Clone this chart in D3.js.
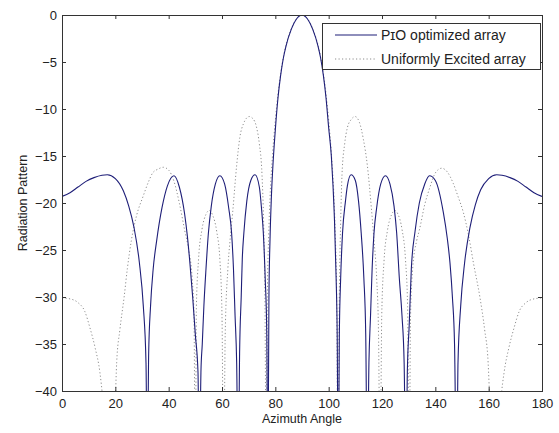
<!DOCTYPE html>
<html>
<head>
<meta charset="utf-8">
<script src="https://cdn.jsdelivr.net/npm/d3@7"></script>
<style>
  body { margin: 0; background: #fff; }
  text { font-family: "Liberation Sans", Arial, sans-serif; fill: #222; }
  .axis path, .axis line { stroke: #333; }
</style>
</head>
<body>
<div id="chart"></div>
<script>
// PSO optimized array (solid) - angle in degrees, pattern in dB
var pioAngle = [0, 3, 6, 9, 12, 15, 17, 20, 23, 25, 27, 29, 30.5, 31.5, 32,
  32.5, 33.2, 34.2, 35.5, 37.5, 39.5, 42, 44, 46, 47, 48, 49, 50, 51, 51.5,
  52.1, 52.6, 53.2, 54, 54.9, 56, 57.5, 59.2, 61, 62.5, 63.6, 64.3, 64.9, 65.5, 66.1,
  66.6, 67.2, 67.6, 68.2, 69.3, 70.8, 72.4, 74, 74.8, 75.5, 76.2, 76.8, 77.2,
  77.6, 78, 78.5, 79, 80, 81, 82, 83, 84, 86, 88, 90,
  92, 94, 96, 97, 98, 99, 100, 101, 101.6, 102.2, 102.8, 103.2, 103.6,
  104, 104.5, 105.2, 106.3, 107, 108.4, 110, 111.2, 112.2, 113.2, 113.9, 114.5,
  115.1, 115.7, 116.3, 117, 118, 119.5, 121.3, 123, 124.5, 125.5, 126.5, 127.5, 128.3, 129,
  129.5, 130.2, 131, 132.4, 134, 136, 137.8, 140, 143, 144.5, 145.5, 146.4, 147.2, 148,
  148.5, 149.5, 151, 153, 155, 157, 160, 163, 165, 168, 171, 174, 177, 180];
var pioDb = [-19.3, -18.9, -18.3, -17.7, -17.3, -17.05, -17.0, -17.4, -18.7, -20.3, -22.6, -26.3, -31, -37, -50,
  -36, -31, -27, -24, -20.5, -18.2, -17.1, -18.3, -21.2, -23.5, -26.5, -30, -34, -38, -50,
  -38, -35, -31, -27, -23.2, -20.3, -18, -17.1, -18, -20.5, -23.2, -27, -32, -37, -50,
  -36, -30, -26, -23.2, -19.8, -17.6, -17.0, -18.3, -20.5, -23.2, -28, -34, -50,
  -30, -24, -19.5, -16.5, -12.2, -8.8, -6.4, -4.6, -3.3, -1.5, -0.4, 0,
  -0.4, -1.5, -3.3, -4.6, -6.4, -8.8, -12, -15, -18, -22, -28, -34, -50,
  -34, -28, -23.2, -19.8, -18.2, -17.0, -17.6, -19.8, -23.2, -28, -34, -50,
  -37, -32, -27, -23.2, -20.5, -18, -17.1, -18, -20.3, -23.2, -28, -32, -37, -50,
  -38, -33, -27, -23, -20, -18, -17.1, -17.6, -21, -23.8, -26.4, -30, -35, -50,
  -37, -31, -26.3, -22.6, -20.2, -18.6, -17.4, -17.0, -17.05, -17.3, -17.7, -18.3, -18.9, -19.3];

// Uniformly excited array (dotted)
var uniAngle = [0, 3, 6, 8.5, 10.5, 12.5, 14.2, 15.3, 17.7, 20, 20.5, 21.7, 23.3, 24.5, 26, 28, 30.4, 32.5, 34, 36, 38, 40, 42, 44, 46, 47.5, 48.8, 49.5, 50,
  50.4, 51.2, 52.5, 54, 55.2, 56.5, 58, 59.2, 60, 60.6,
  61.2, 62.2, 63, 64, 65.5, 66.7, 68, 70.2, 71.5, 73, 74, 75, 75.6, 76.1, 76.6,
  77, 77.5, 78, 79, 80, 81, 82, 83, 84, 86, 88, 90,
  92, 94, 96, 97, 98, 99, 100, 101, 102, 102.5, 103, 103.5,
  104, 104.5, 105, 106, 107, 108.5, 109.9, 111.5, 113, 114.5, 116, 117, 118, 118.7, 119.3,
  119.9, 120.8, 122, 123.5, 124.8, 126, 127.5, 128.8, 129.6, 130.2,
  130.7, 131.5, 133, 134, 136, 138, 140, 142.4, 144.5, 146.7, 148.5, 150.5, 152.5, 154.3, 156.7, 158.5, 159.8, 160.4,
  162.4, 164.6, 165.8, 167.5, 169.5, 171.5, 174, 177, 180];
var uniDb = [-30.1, -30.2, -30.6, -31.5, -33.3, -35.5, -38, -41, -55, -41, -37, -33.5, -30, -27, -24, -21.3, -19.3, -17.7, -16.8, -16.4, -16.2, -16.5, -17.7, -20, -22.9, -25, -28, -32, -50,
  -31, -26, -22.8, -21.2, -20.8, -21.3, -23, -26, -32, -50,
  -34, -27, -24, -21, -16, -13, -11.6, -10.8, -11, -12, -13.7, -17, -22, -30, -50,
  -30, -23.5, -19.5, -14.7, -11.2, -8.4, -6.2, -4.5, -3.2, -1.45, -0.37, 0,
  -0.37, -1.45, -3.2, -4.5, -6.2, -8.4, -11.2, -14.7, -19.5, -23.5, -30, -50,
  -30, -22, -17, -13.7, -12, -11.1, -10.8, -11.4, -13.2, -16, -20.5, -24, -28, -34, -50,
  -32, -26, -23, -21.3, -20.8, -21.2, -22.8, -26, -31, -50,
  -32, -27, -24, -22.9, -20.2, -18.3, -16.8, -16.3, -16.7, -17.9, -19.3, -21, -23.5, -26.4, -30, -33.5, -37, -41,
  -55, -41, -38, -35.5, -33.3, -31.5, -30.6, -30.2, -30.1];

var xTicks = [0, 20, 40, 60, 80, 100, 120, 140, 160, 180];
var yTicks = [0, -5, -10, -15, -20, -25, -30, -35, -40];
var legendLabels = ["P\u026AO optimized array", "Uniformly Excited array"];

var W = 559, H = 433;
var box = {left: 62, right: 542, top: 15, bottom: 391};

var x = d3.scaleLinear().domain([0, 180]).range([box.left, box.right]);
var y = d3.scaleLinear().domain([-40, 0]).range([box.bottom, box.top]);

var svg = d3.select("#chart").append("svg")
    .attr("width", W)
    .attr("height", H);

svg.append("rect").attr("width", W).attr("height", H).attr("fill", "#fff");

svg.append("clipPath").attr("id", "plot-clip")
  .append("rect")
    .attr("x", box.left).attr("y", box.top)
    .attr("width", box.right - box.left).attr("height", box.bottom - box.top);

var line = d3.line()
    .curve(d3.curveMonotoneX)
    .x(function(d) { return x(d[0]); })
    .y(function(d) { return y(d[1]); });

var pio = pioAngle.map(function(a, i) { return [a, pioDb[i]]; });
var uni = uniAngle.map(function(a, i) { return [a, uniDb[i]]; });

var plot = svg.append("g").attr("clip-path", "url(#plot-clip)");

plot.append("path")
    .datum(uni)
    .attr("fill", "none")
    .attr("stroke", "#8e8e8e")
    .attr("stroke-width", 1)
    .attr("stroke-dasharray", "1.2,2.3")
    .attr("d", line);

plot.append("path")
    .datum(pio)
    .attr("fill", "none")
    .attr("stroke", "#1e1e78")
    .attr("stroke-width", 1.1)
    .attr("d", line);

// axes, matlab style: ticks pointing in on all four sides
svg.append("g")
    .attr("class", "axis")
    .attr("transform", "translate(0," + box.bottom + ")")
    .call(d3.axisBottom(x).tickValues(xTicks).tickSizeInner(-4).tickSizeOuter(0).tickPadding(8))
    .selectAll("text").style("font-size", "13px");

svg.append("g")
    .attr("class", "axis")
    .attr("transform", "translate(" + box.left + ",0)")
    .call(d3.axisLeft(y).tickValues(yTicks).tickSizeInner(-4).tickSizeOuter(0).tickPadding(5))
    .selectAll("text").style("font-size", "13px");

svg.append("g")
    .attr("class", "axis")
    .attr("transform", "translate(0," + box.top + ")")
    .call(d3.axisTop(x).tickValues(xTicks).tickSizeInner(-4).tickSizeOuter(0).tickFormat(""));

svg.append("g")
    .attr("class", "axis")
    .attr("transform", "translate(" + box.right + ",0)")
    .call(d3.axisRight(y).tickValues(yTicks).tickSizeInner(-4).tickSizeOuter(0).tickFormat(""));

svg.append("rect")
    .attr("x", box.left + 0.5).attr("y", box.top + 0.5)
    .attr("width", box.right - box.left).attr("height", box.bottom - box.top)
    .attr("fill", "none")
    .attr("stroke", "#333");

// axis titles
svg.append("text")
    .attr("x", (box.left + box.right) / 2)
    .attr("y", 423)
    .attr("text-anchor", "middle")
    .style("font-size", "12.5px")
    .text("Azimuth Angle");

svg.append("text")
    .attr("transform", "translate(27," + ((box.top + box.bottom) / 2) + ") rotate(-90)")
    .attr("text-anchor", "middle")
    .style("font-size", "12.5px")
    .text("Radiation Pattern");

// legend
var lg = svg.append("g").attr("transform", "translate(322,23)");
lg.append("rect")
    .attr("x", 0.5).attr("y", 0.5)
    .attr("width", 218).attr("height", 46)
    .attr("fill", "#fff")
    .attr("stroke", "#333");

var styles = [
  {stroke: "#1e1e78", dash: null},
  {stroke: "#8e8e8e", dash: "1.2,2.3"}
];
legendLabels.forEach(function(lbl, i) {
  var yy = 12 + i * 24;
  lg.append("line")
      .attr("x1", 13).attr("x2", 55)
      .attr("y1", yy).attr("y2", yy)
      .attr("stroke", styles[i].stroke)
      .attr("stroke-width", 1.1)
      .attr("stroke-dasharray", styles[i].dash);
  lg.append("text")
      .attr("x", 59)
      .attr("y", yy)
      .attr("dy", "0.36em")
      .style("font-size", "14px")
      .text(lbl);
});
</script>
</body>
</html>
